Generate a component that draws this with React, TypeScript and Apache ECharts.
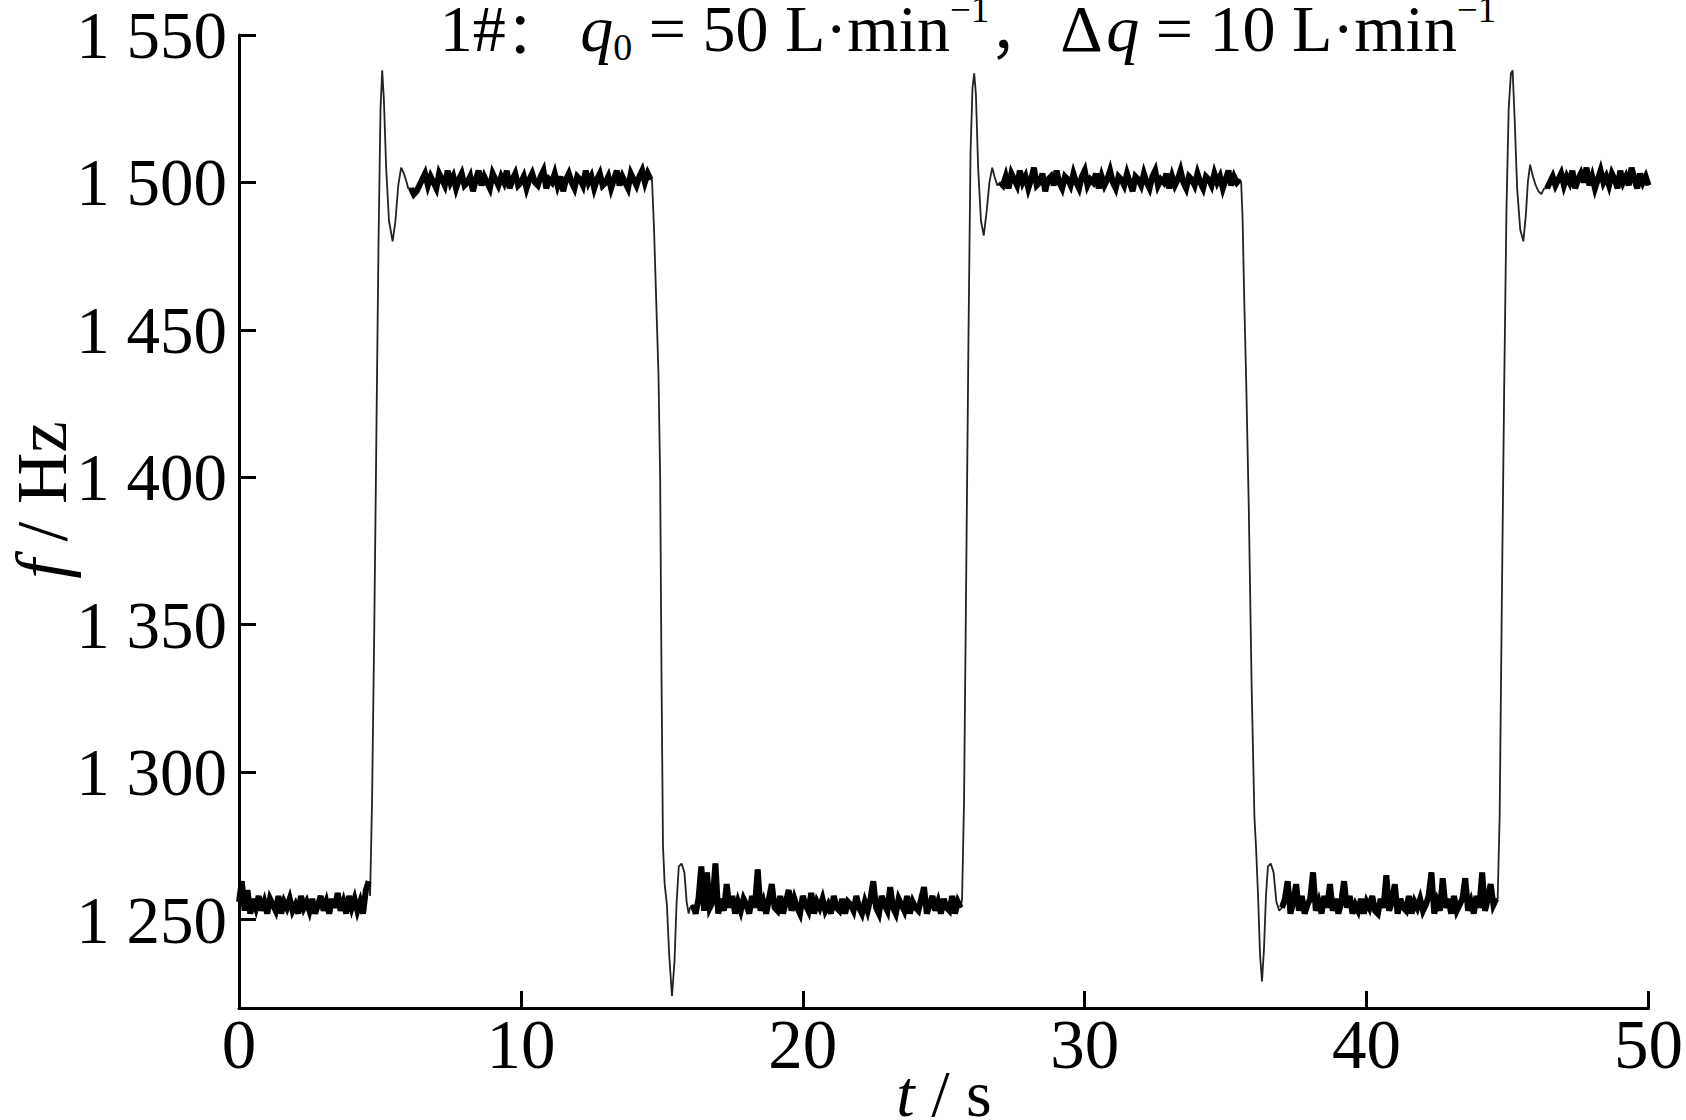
import React, { useEffect, useRef } from 'react';
import * as echarts from 'echarts';

// ---------- tick labels ----------
const xTicks = [0, 10, 20, 30, 40, 50];
const xTickLabels = ['0', '10', '20', '30', '40', '50'];
const yTicks = [1250, 1300, 1350, 1400, 1450, 1500, 1550];
const yTickLabels = ['1 250', '1 300', '1 350', '1 400', '1 450', '1 500', '1 550'];

// ---------- signal: plateaus (noisy, evenly sampled over their span) ----------
const plateau1Span = [0, 4.6];
const plateau1Hz = [
  1256, 1263, 1253, 1260, 1252, 1257, 1254, 1258, 1253, 1256,
  1252, 1257, 1255, 1253, 1258, 1252, 1256, 1254, 1257, 1253,
  1255, 1252, 1258, 1254, 1256, 1253, 1257, 1252, 1255, 1258,
  1253, 1256, 1252, 1257, 1254, 1259, 1253, 1256, 1252, 1258,
  1254, 1257, 1253, 1256, 1252, 1260, 1263,
];

const plateau2Span = [6.1, 14.6];
const plateau2Hz = [1498, 1496, 1497, 1499, 1501, 1503, 1499, 1502, 1500, 1498, 1503, 1501, 1499, 1504, 1500, 1502, 1498, 1501, 1503, 1499, 1500, 1502, 1497, 1501, 1504, 1499, 1502, 1500, 1498, 1503, 1501, 1499, 1502, 1500, 1504, 1498, 1501, 1503, 1499, 1500, 1502, 1498, 1501, 1503, 1500, 1499, 1502, 1504, 1498, 1501, 1500, 1503, 1499, 1502, 1497, 1501, 1503, 1500, 1498, 1502, 1501, 1499, 1504, 1500, 1502, 1498, 1501, 1503, 1499, 1500, 1502, 1498, 1501, 1504, 1499, 1502, 1500, 1498, 1503, 1501, 1499, 1502, 1504, 1500, 1503, 1501];

const plateau3Span = [16.1, 25.6];
const plateau3Hz = [
  1255, 1252, 1257, 1268, 1253, 1266, 1254, 1256, 1269, 1252,
  1257, 1253, 1262, 1254, 1258, 1252, 1256, 1253, 1257, 1255,
  1252, 1258, 1254, 1267, 1253, 1256, 1252, 1257, 1262, 1254,
  1253, 1258, 1252, 1256, 1260, 1253, 1257, 1254, 1252, 1258,
  1255, 1253, 1259, 1252, 1256, 1254, 1257, 1253, 1255, 1252,
  1258, 1254, 1253, 1257, 1252, 1256, 1255, 1253, 1258, 1254,
  1252, 1256, 1253, 1257, 1263, 1254, 1252, 1258, 1255, 1253,
  1261, 1254, 1252, 1257, 1255, 1253, 1258, 1252, 1256, 1254,
  1253, 1257, 1261, 1252, 1255, 1258, 1253, 1256, 1252, 1257,
  1254, 1253, 1258, 1252, 1256, 1254,
];

const plateau4Span = [27.0, 35.5];
const plateau4Hz = [1500, 1499, 1502, 1498, 1503, 1501, 1499, 1504, 1500, 1502, 1498, 1501, 1505, 1499, 1500, 1503, 1497, 1501, 1502, 1499, 1504, 1500, 1498, 1502, 1501, 1499, 1503, 1500, 1498, 1502, 1504, 1499, 1501, 1500, 1503, 1498, 1502, 1499, 1501, 1504, 1500, 1498, 1502, 1501, 1499, 1503, 1500, 1497, 1502, 1501, 1499, 1503, 1500, 1498, 1502, 1504, 1499, 1501, 1500, 1503, 1498, 1502, 1499, 1501, 1504, 1500, 1498, 1502, 1501, 1499, 1503, 1500, 1498, 1502, 1501, 1499, 1503, 1500, 1502, 1498, 1501, 1504, 1499, 1502, 1500, 1501];

const plateau5Span = [37.0, 44.6];
const plateau5Hz = [
  1254, 1257, 1263, 1252, 1256, 1262, 1253, 1258, 1252, 1255,
  1257, 1266, 1253, 1256, 1252, 1258, 1254, 1262, 1253, 1257,
  1252, 1256, 1263, 1254, 1258, 1252, 1255, 1253, 1257, 1252,
  1256, 1254, 1258, 1253, 1252, 1257, 1254, 1265, 1253, 1256,
  1262, 1252, 1257, 1254, 1253, 1258, 1252, 1256, 1254, 1257,
  1253, 1255, 1258, 1266, 1252, 1256, 1253, 1264, 1254, 1257,
  1252, 1258, 1253, 1255, 1257, 1264, 1253, 1256, 1252, 1258,
  1254, 1266, 1253, 1257, 1262, 1255, 1257,
];

const plateau6Span = [46.4, 50.0];
const plateau6Hz = [1498, 1500, 1502, 1499, 1501, 1503, 1499, 1502, 1500, 1504, 1498, 1501, 1503, 1500, 1505, 1499, 1502, 1498, 1501, 1504, 1500, 1502, 1499, 1503, 1501, 1498, 1504, 1500, 1502, 1499, 1505, 1501, 1498, 1503, 1500, 1502, 1499];

// ---------- signal: step transitions [t (s), f (Hz)] ----------
const rise1 = [[4.65, 1258], [4.72, 1290], [4.8, 1350], [4.88, 1420], [4.95, 1480], [5.02, 1525], [5.08, 1538], [5.14, 1528], [5.22, 1505], [5.32, 1487], [5.45, 1480], [5.55, 1487], [5.65, 1499], [5.75, 1505], [5.85, 1503], [5.95, 1500], [6.0, 1498]];
const fall1 = [[14.65, 1501], [14.72, 1485], [14.8, 1460], [14.88, 1435], [14.94, 1400], [14.99, 1330], [15.04, 1275], [15.1, 1262], [15.18, 1255], [15.26, 1238], [15.36, 1224], [15.45, 1236], [15.52, 1255], [15.6, 1268], [15.7, 1269], [15.8, 1266], [15.88, 1256], [15.95, 1252], [16.0, 1254]];
const rise2 = [[25.65, 1257], [25.72, 1290], [25.8, 1370], [25.88, 1450], [25.95, 1510], [26.02, 1532], [26.08, 1537], [26.14, 1530], [26.22, 1505], [26.32, 1487], [26.42, 1482], [26.52, 1490], [26.62, 1500], [26.72, 1505], [26.8, 1502], [26.9, 1499]];
const fall2 = [[35.55, 1500], [35.6, 1488], [35.66, 1460], [35.73, 1432], [35.82, 1390], [35.92, 1330], [36.02, 1285], [36.08, 1274], [36.15, 1258], [36.22, 1238], [36.29, 1229], [36.36, 1240], [36.43, 1258], [36.5, 1268], [36.6, 1269], [36.7, 1266], [36.8, 1256], [36.9, 1253]];
const rise3 = [[44.65, 1257], [44.72, 1285], [44.8, 1360], [44.88, 1430], [44.96, 1490], [45.04, 1525], [45.12, 1537], [45.18, 1538], [45.25, 1522], [45.34, 1498], [45.45, 1484], [45.56, 1480], [45.65, 1489], [45.72, 1500], [45.8, 1506], [45.9, 1502], [46.0, 1499], [46.1, 1497], [46.2, 1496], [46.3, 1498]];

function plateau(span: number[], vals: number[]) {
  return vals.map((v, i) => [span[0] + ((span[1] - span[0]) * i) / (vals.length - 1), v]);
}

const plateaus = [
  plateau(plateau1Span, plateau1Hz),
  plateau(plateau2Span, plateau2Hz),
  plateau(plateau3Span, plateau3Hz),
  plateau(plateau4Span, plateau4Hz),
  plateau(plateau5Span, plateau5Hz),
  plateau(plateau6Span, plateau6Hz),
];
const transitions = [rise1, fall1, rise2, fall2, rise3];

const signal: number[][] = [];
plateaus.forEach((p, k) => {
  signal.push(...p);
  if (transitions[k]) signal.push(...transitions[k]);
});

const SERIF = "'Liberation Serif', 'Times New Roman', serif";
const CJK = "'Noto Sans CJK SC', sans-serif";

// title pieces: [text, kind]; kind: n normal, i italic, c CJK punctuation, s subscript, p superscript
const titlePieces: [string, string][] = [
  ['1#', 'n'], ['：', 'c'], [' ', 'n'], ['q', 'i'], ['0', 's'], [' = 50 L·min', 'n'], ['−1', 'p'],
  ['，', 'c'], [' Δ', 'n'], ['q', 'i'], [' = 10 L·min', 'n'], ['−1', 'p'],
];

function buildTitle(cx: number, cy: number) {
  const kinds: Record<string, { size: number; family: string; style: string; dy: number }> = {
    n: { size: 66, family: SERIF, style: 'normal', dy: 0 },
    i: { size: 66, family: SERIF, style: 'italic', dy: 0 },
    c: { size: 58, family: CJK, style: 'normal', dy: 0 },
    s: { size: 38, family: SERIF, style: 'normal', dy: 19 },
    p: { size: 37, family: SERIF, style: 'normal', dy: -19 },
  };
  const ctx = document.createElement('canvas').getContext('2d')!;
  const widths = titlePieces.map(([t, k]) => {
    const s = kinds[k];
    ctx.font = `${s.style} ${s.size}px ${s.family}`;
    return ctx.measureText(t).width;
  });
  const total = widths.reduce((a, b) => a + b, 0);
  let x = cx - total / 2;
  return titlePieces.map(([t, k], idx) => {
    const s = kinds[k];
    const el = {
      type: 'text',
      x,
      y: cy + s.dy,
      style: {
        text: t,
        fontSize: s.size,
        fontFamily: s.family,
        fontStyle: s.style,
        fill: '#000',
        align: 'left',
        verticalAlign: 'middle',
      },
    };
    x += widths[idx];
    return el;
  });
}

export default function App() {
  const ref = useRef<HTMLDivElement>(null);
  useEffect(() => {
    const chart = echarts.init(ref.current!, null, { renderer: 'svg' });
    const nameRich = (size: number) => ({
      a: { fontSize: size, fontFamily: SERIF, fill: '#000', lineHeight: size + 6, verticalAlign: 'middle' },
      i: { fontSize: size, fontFamily: SERIF, fontStyle: 'italic', fill: '#000', lineHeight: size + 6, verticalAlign: 'middle' },
    });
    const option: any = {
      animation: false,
      backgroundColor: '#fff',
      grid: { left: 239, right: 32, top: 35, bottom: 112, containLabel: false },
      xAxis: {
        type: 'value',
        min: 0,
        max: 50,
        interval: 10,
        axisLine: { lineStyle: { color: '#000', width: 3 } },
        axisTick: { inside: true, length: 17, lineStyle: { color: '#000', width: 3 } },
        splitLine: { show: false },
        axisLabel: {
          margin: 2,
          fontSize: 69,
          fontFamily: SERIF,
          color: '#000',
          formatter: (v: number) => {
            const k = xTicks.indexOf(v);
            return k >= 0 ? xTickLabels[k] : '';
          },
        },
      },
      yAxis: {
        type: 'value',
        min: 1220,
        max: 1550,
        splitNumber: 5,
        axisLine: { lineStyle: { color: '#000', width: 3 } },
        axisTick: { inside: true, length: 17, lineStyle: { color: '#000', width: 3 } },
        splitLine: { show: false },
        axisLabel: {
          margin: 12,
          fontSize: 67,
          fontFamily: SERIF,
          color: '#000',
          formatter: (v: number) => {
            const k = yTicks.indexOf(v);
            return k >= 0 ? yTickLabels[k] : '';
          },
        },
      },
      graphic: [
        ...buildTitle(968, 28),
        {
          type: 'text',
          x: 42,
          y: 500,
          rotation: Math.PI / 2,
          style: {
            text: '{i|f}{a| / Hz}',
            align: 'center',
            verticalAlign: 'middle',
            rich: nameRich(71),
          },
        },
        {
          type: 'text',
          x: 944,
          y: 1093,
          style: {
            text: '{i|t}{a| / s}',
            align: 'center',
            verticalAlign: 'middle',
            rich: nameRich(66),
          },
        },
      ],
      series: [
        {
          type: 'line',
          data: signal,
          showSymbol: false,
          symbol: 'none',
          clip: true,
          z: 2,
          lineStyle: { color: '#222', width: 1.8 },
        },
        ...plateaus.map((p) => ({
          type: 'line',
          data: p,
          showSymbol: false,
          symbol: 'none',
          clip: true,
          z: 3,
          lineStyle: { color: '#000', width: 6, join: 'miter' },
        })),
      ],
    };
    chart.setOption(option);
    return () => chart.dispose();
  }, []);
  return (
    <div
      ref={ref}
      style={{ position: 'absolute', left: 0, top: 0, width: 1686, height: 1120, background: '#fff' }}
    />
  );
}
